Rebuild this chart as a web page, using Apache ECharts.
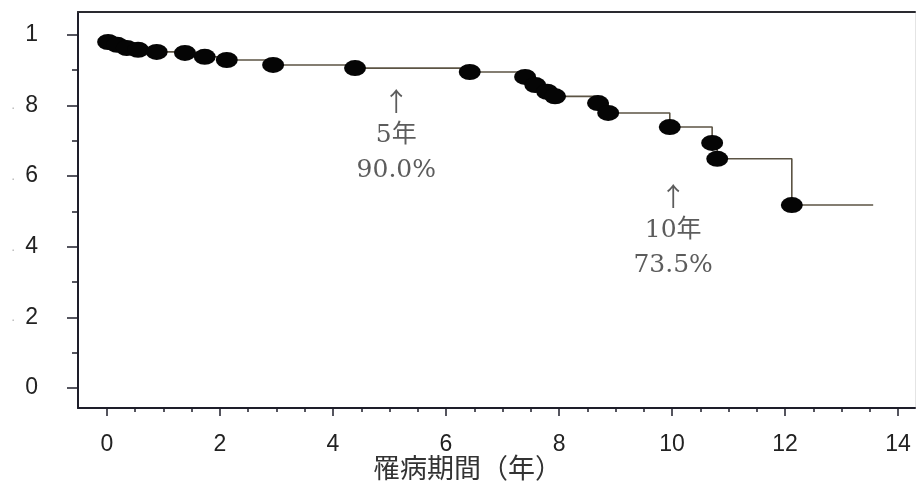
<!DOCTYPE html>
<html>
<head>
<meta charset="utf-8">
<script src="https://cdn.jsdelivr.net/npm/echarts@6/dist/echarts.min.js"></script>
<style>
  html, body { margin: 0; padding: 0; background: #fff; }
  #chart { width: 922px; height: 483px; }
</style>
</head>
<body>
<div id="chart"></div>
<script>
// 罹病期間(年) と 累積生存率
var eventTimes = [0.02, 0.18, 0.35, 0.55, 0.88, 1.38, 1.73, 2.12, 2.94, 4.39, 6.42, 7.40, 7.58, 7.79, 7.93, 8.69, 8.87, 9.96, 10.71, 10.80, 12.12];
var survival = [0.980, 0.972, 0.963, 0.958, 0.952, 0.949, 0.938, 0.929, 0.915, 0.906, 0.895, 0.881, 0.858, 0.839, 0.826, 0.807, 0.779, 0.739, 0.694, 0.649, 0.518];
var lastTime = 13.56;

var xMajorTicks = [0, 2, 4, 6, 8, 10, 12, 14];
var xMinorTicks = [0.5, 1, 1.5, 2.5, 3, 3.5, 4.5, 5, 5.5, 6.5, 7, 7.5, 8.5, 9, 9.5, 10.5, 11, 11.5, 12.5, 13, 13.5];
var yMajorTicks = [0, 0.2, 0.4, 0.6, 0.8, 1];
var yMinorTicks = [0.1, 0.3, 0.5, 0.7, 0.9];

// 注記: 5年 90.0%, 10年 73.5%
var noteX = [5.12, 10.02];
var noteY = [0.712, 0.443];
var noteYears = ['5年', '10年'];
var noteRates = ['90.0%', '73.5%'];

var lineData = [];
var pointData = [];
for (var i = 0; i < eventTimes.length; i++) {
  lineData.push([eventTimes[i], survival[i]]);
  pointData.push([eventTimes[i], survival[i]]);
}
lineData.push([lastTime, survival[survival.length - 1]]);

var noteData = [];
for (var j = 0; j < noteX.length; j++) {
  noteData.push([noteX[j], noteY[j], noteYears[j], noteRates[j]]);
}

var chart = echarts.init(document.getElementById('chart'));
var axisColor = '#1e1e2a';
var xRange = { min: -0.513, max: 14.30 };
var yRange = { min: -0.057, max: 1.065 };

var option = {
  animation: false,
  grid: {
    left: 78,
    right: 7,
    top: 12,
    bottom: 75,
    containLabel: false,
    outerBoundsMode: 'none'
  },
  xAxis: [
    {
      type: 'value',
      min: xRange.min,
      max: xRange.max,
      position: 'bottom',
      splitLine: { show: false },
      axisLine: { show: true, onZero: false, lineStyle: { color: axisColor, width: 2 } },
      axisTick: {
        show: true,
        customValues: xMajorTicks,
        length: 8,
        lineStyle: { color: axisColor, width: 1.5 }
      },
      axisLabel: {
        customValues: xMajorTicks,
        margin: 25,
        color: '#222',
        fontSize: 23,
        fontFamily: 'Liberation Sans'
      },
      name: '罹病期間（年）',
      nameLocation: 'middle',
      nameGap: 46,
      nameMoveOverlap: false,
      nameTextStyle: {
        color: '#333',
        fontSize: 27,
        fontFamily: 'Noto Sans CJK JP',
        padding: [0, 58, 0, 0]
      }
    },
    {
      type: 'value',
      min: xRange.min,
      max: xRange.max,
      position: 'bottom',
      splitLine: { show: false },
      axisLine: { show: false, onZero: false },
      axisTick: {
        show: true,
        customValues: xMinorTicks,
        length: 4,
        lineStyle: { color: axisColor, width: 1.5 }
      },
      axisLabel: { show: false }
    },
    {
      type: 'value',
      min: xRange.min,
      max: xRange.max,
      position: 'top',
      splitLine: { show: false },
      axisLine: { show: true, onZero: false, lineStyle: { color: '#2a2a30', width: 2 } },
      axisTick: { show: false },
      axisLabel: { show: false }
    }
  ],
  yAxis: [
    {
      type: 'value',
      min: yRange.min,
      max: yRange.max,
      position: 'left',
      splitLine: { show: false },
      axisLine: { show: true, onZero: false, lineStyle: { color: axisColor, width: 2 } },
      axisTick: {
        show: true,
        customValues: yMajorTicks,
        length: 11,
        lineStyle: { color: axisColor, width: 1.5 }
      },
      axisLabel: {
        customValues: yMajorTicks,
        margin: 40,
        formatter: function (value) {
          if (value === 0 || value === 1) {
            return '{n|' + value + '}';
          }
          return '{d|.}{n|' + Math.round(value * 10) + '}';
        },
        rich: {
          n: { fontSize: 23, color: '#222', fontFamily: 'Liberation Sans' },
          d: { fontSize: 14, color: '#b8b8b8', padding: [0, 10, 0, 0] }
        }
      }
    },
    {
      type: 'value',
      min: yRange.min,
      max: yRange.max,
      position: 'left',
      splitLine: { show: false },
      axisLine: { show: false, onZero: false },
      axisTick: {
        show: true,
        customValues: yMinorTicks,
        length: 6,
        lineStyle: { color: axisColor, width: 1.5 }
      },
      axisLabel: { show: false }
    },
    {
      type: 'value',
      min: yRange.min,
      max: yRange.max,
      position: 'right',
      splitLine: { show: false },
      axisLine: { show: true, onZero: false, lineStyle: { color: '#e4e4e4', width: 1 } },
      axisTick: { show: false },
      axisLabel: { show: false }
    }
  ],
  series: [
    {
      type: 'line',
      step: 'end',
      data: lineData,
      showSymbol: false,
      lineStyle: { color: '#5c5444', width: 1.6 }
    },
    {
      type: 'scatter',
      data: pointData,
      symbol: 'circle',
      symbolSize: [22, 16],
      itemStyle: { color: '#050505', opacity: 1 },
      z: 3
    },
    {
      type: 'scatter',
      data: noteData,
      symbolSize: 0,
      label: {
        show: true,
        position: 'inside',
        formatter: function (p) {
          return '{a|↑}\n{t|' + p.data[2] + '}\n{t|' + p.data[3] + '}';
        },
        align: 'center',
        verticalAlign: 'middle',
        rich: {
          a: { fontSize: 26, lineHeight: 32, color: '#333', fontFamily: 'Noto Sans CJK JP' },
          t: { fontSize: 25, lineHeight: 35, color: '#333', fontFamily: 'DejaVu Serif, Noto Sans CJK JP' }
        }
      }
    }
  ]
};
chart.setOption(option);
</script>
</body>
</html>
